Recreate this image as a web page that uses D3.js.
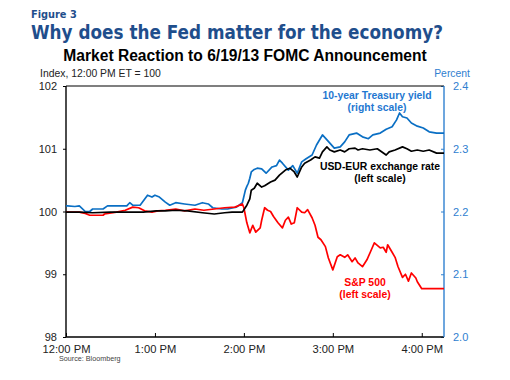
<!DOCTYPE html>
<html>
<head>
<meta charset="utf-8">
<script src="https://cdn.jsdelivr.net/npm/d3@7"></script>
<style>
  html, body { margin: 0; padding: 0; background: #fff; }
  svg { display: block; }
</style>
</head>
<body>
<svg id="chart" width="510" height="380"></svg>
<script>
// ---- Data (minutes after 12:00 PM ET) ----
const xTickMinutes = [0, 60, 120, 180, 240];
const xTickLabels = ["12:00 PM", "1:00 PM", "2:00 PM", "3:00 PM", "4:00 PM"];
const leftTicks = [98, 99, 100, 101, 102];
const rightTicks = [2.0, 2.1, 2.2, 2.3, 2.4];

// 10-year Treasury yield (percent, right scale)
const tsyMinutes = [0,1,6,9,13,16,18,25,28,32,41,43,45,50,55,58,60,63,67,70,72,74,80,87,92,96,99,105,109,113,115,119,121,122,123,124,125,127,129,132,135,139,142,144,146,150,153,156,159,162,166,169,173,175,178,181,185,188,191,196,200,204,207,212,216,220,223,225,227,230,233,237,241,245,250,255];
const tsyValues  = [2.209,2.209,2.208,2.209,2.200,2.200,2.204,2.204,2.209,2.209,2.209,2.214,2.210,2.210,2.226,2.223,2.226,2.223,2.215,2.210,2.212,2.214,2.212,2.210,2.214,2.212,2.206,2.204,2.204,2.206,2.207,2.214,2.234,2.240,2.245,2.253,2.263,2.267,2.269,2.268,2.261,2.271,2.273,2.282,2.277,2.266,2.273,2.261,2.279,2.284,2.290,2.306,2.322,2.317,2.309,2.301,2.303,2.311,2.322,2.325,2.319,2.316,2.322,2.325,2.331,2.335,2.346,2.357,2.351,2.349,2.341,2.336,2.333,2.327,2.325,2.325];

// USD-EUR exchange rate (index, left scale)
const fxMinutes = [0,9,18,30,41,52,61,67,74,82,92,100,107,112,117,119,122,124,125,127,129,132,134,138,141,144,148,151,154,156,159,161,165,168,171,173,176,178,181,185,188,191,195,197,200,205,210,216,218,222,227,230,233,237,241,245,250,255];
const fxValues  = [99.99,99.99,99.98,99.99,99.99,99.99,100.01,100.01,100.02,100.01,99.98,99.96,99.98,99.99,99.99,99.99,100.10,100.20,100.34,100.37,100.45,100.39,100.41,100.47,100.50,100.58,100.66,100.69,100.63,100.55,100.71,100.77,100.82,100.87,100.85,100.95,101.03,100.98,100.95,100.98,100.95,101.00,101.01,100.98,101.00,100.98,101.00,100.90,100.95,100.98,101.03,101.00,100.96,100.98,100.96,100.98,100.93,100.93];

// S&P 500 (index, left scale)
const spxMinutes = [0,9,13,16,21,25,26,34,40,45,49,53,58,62,67,74,80,87,93,100,107,114,119,120,122,124,126,128,131,132,134,136,138,140,143,146,148,150,152,154,156,159,161,163,166,168,170,172,175,177,180,183,185,188,190,193,195,197,200,203,206,208,212,214,216,217,220,222,224,227,229,231,233,236,237,240,255];
const spxValues  = [99.99,99.99,99.97,99.94,99.94,99.94,99.96,99.99,100.02,100.07,100.06,100.01,99.99,100.01,100.02,100.04,100.01,100.04,100.02,100.04,100.06,100.07,100.12,100.06,99.82,99.66,99.78,99.67,99.74,99.86,100.06,100.02,100.00,99.92,99.82,99.74,99.86,99.91,99.80,99.82,100.06,99.99,99.98,100.03,99.90,99.78,99.59,99.55,99.44,99.26,99.07,99.28,99.31,99.27,99.31,99.20,99.26,99.18,99.12,99.23,99.39,99.50,99.42,99.43,99.35,99.47,99.35,99.27,99.12,98.95,99.00,98.89,99.02,98.94,98.88,98.77,98.77];

// ---- Layout ----
const svg = d3.select("#chart");
const L = 66, R = 444, T = 86, B = 337;
const blueAxis = "#2f80d0";
const lineBlue = "#0a6fc4";
const titleBlue = "#1f4e8c";

const x = d3.scaleLinear().domain([0, 255]).range([L, R]);
const yL = d3.scaleLinear().domain([98, 102]).range([B, T]);
const yR = d3.scaleLinear().domain([2.0, 2.4]).range([B, T]);

// Titles
svg.append("text").attr("x", 31).attr("y", 18)
  .attr("font-family", "DejaVu Sans").attr("font-weight", "bold").attr("font-size", 9.8)
  .attr("fill", titleBlue).text("Figure 3");
svg.append("text").attr("x", 31).attr("y", 39)
  .attr("font-family", "DejaVu Sans").attr("font-weight", "bold").attr("font-size", 19)
  .attr("textLength", 412).attr("lengthAdjust", "spacingAndGlyphs")
  .attr("fill", titleBlue).text("Why does the Fed matter for the economy?");
svg.append("text").attr("x", 245).attr("y", 61).attr("text-anchor", "middle")
  .attr("font-family", "Liberation Sans, Arial").attr("font-weight", "bold").attr("font-size", 15.6)
  .attr("fill", "#000").text("Market Reaction to 6/19/13 FOMC Announcement");
svg.append("text").attr("x", 40).attr("y", 77)
  .attr("font-family", "Liberation Sans, Arial").attr("font-size", 10.4)
  .attr("fill", "#222").text("Index, 12:00 PM ET = 100");
svg.append("text").attr("x", 470).attr("y", 77).attr("text-anchor", "end")
  .attr("font-family", "Liberation Sans, Arial").attr("font-size", 10.4)
  .attr("fill", blueAxis).text("Percent");

// Axes
const gL = svg.append("g").attr("transform", `translate(${L},0)`)
  .call(d3.axisLeft(yL).tickValues(leftTicks).tickSize(3).tickPadding(6).tickFormat(d3.format("d")));
gL.select(".domain").remove();
gL.selectAll("line").attr("stroke", "#000");
gL.selectAll("text").attr("font-family", "Liberation Sans, Arial").attr("font-size", 11).attr("fill", "#222");

const gR = svg.append("g").attr("transform", `translate(${R},0)`)
  .call(d3.axisRight(yR).tickValues(rightTicks).tickSizeInner(-3).tickSizeOuter(0).tickPadding(9).tickFormat(d3.format(".1f")));
gR.select(".domain").remove();
gR.selectAll("line").attr("stroke", blueAxis);
gR.selectAll("text").attr("font-family", "Liberation Sans, Arial").attr("font-size", 11).attr("fill", blueAxis);

const gX = svg.append("g").attr("transform", `translate(0,${B})`)
  .call(d3.axisBottom(x).tickValues(xTickMinutes).tickSizeInner(-4).tickSizeOuter(0).tickPadding(8)
    .tickFormat((d, i) => xTickLabels[i]));
gX.select(".domain").remove();
gX.selectAll("line").attr("stroke", "#000");
gX.selectAll("text").attr("font-family", "Liberation Sans, Arial").attr("font-size", 11.2).attr("fill", "#222");

// Frame
svg.append("line").attr("x1", L).attr("x2", R).attr("y1", T).attr("y2", T).attr("stroke", "#000").attr("stroke-width", 1.2);
svg.append("line").attr("x1", L).attr("x2", R).attr("y1", B).attr("y2", B).attr("stroke", "#000").attr("stroke-width", 1.4);
svg.append("line").attr("x1", L).attr("x2", L).attr("y1", T).attr("y2", B).attr("stroke", "#000").attr("stroke-width", 1.4);
svg.append("line").attr("x1", R).attr("x2", R).attr("y1", T).attr("y2", B).attr("stroke", blueAxis).attr("stroke-width", 1.4);

// Lines
const lineL = (ms, vs) => d3.line().x((d, i) => x(ms[i])).y((d, i) => yL(vs[i]))(vs);
const lineR = (ms, vs) => d3.line().x((d, i) => x(ms[i])).y((d, i) => yR(vs[i]))(vs);

svg.append("path").attr("d", lineR(tsyMinutes, tsyValues)).attr("fill", "none")
  .attr("stroke", lineBlue).attr("stroke-width", 1.7).attr("stroke-linejoin", "round");
svg.append("path").attr("d", lineL(spxMinutes, spxValues)).attr("fill", "none")
  .attr("stroke", "#ff0000").attr("stroke-width", 1.7).attr("stroke-linejoin", "round");
svg.append("path").attr("d", lineL(fxMinutes, fxValues)).attr("fill", "none")
  .attr("stroke", "#000").attr("stroke-width", 1.7).attr("stroke-linejoin", "round");

// Annotations
function note(lines, cx, y0, color) {
  lines.forEach((t, i) => {
    svg.append("text").attr("x", cx).attr("y", y0 + i * 11.5).attr("text-anchor", "middle")
      .attr("font-family", "Liberation Sans, Arial").attr("font-weight", "bold").attr("font-size", 10.4)
      .attr("fill", color).text(t);
  });
}
note(["10-year Treasury yield", "(right scale)"], 377, 99, "#1f78d1");
note(["USD-EUR exchange rate", "(left scale)"], 380, 170, "#000");
note(["S&P 500", "(left scale)"], 365, 286, "#ff0000");

// Source
svg.append("text").attr("x", 59).attr("y", 361)
  .attr("font-family", "Liberation Sans, Arial").attr("font-size", 7.2)
  .attr("fill", "#444").text("Source: Bloomberg");
</script>
</body>
</html>
